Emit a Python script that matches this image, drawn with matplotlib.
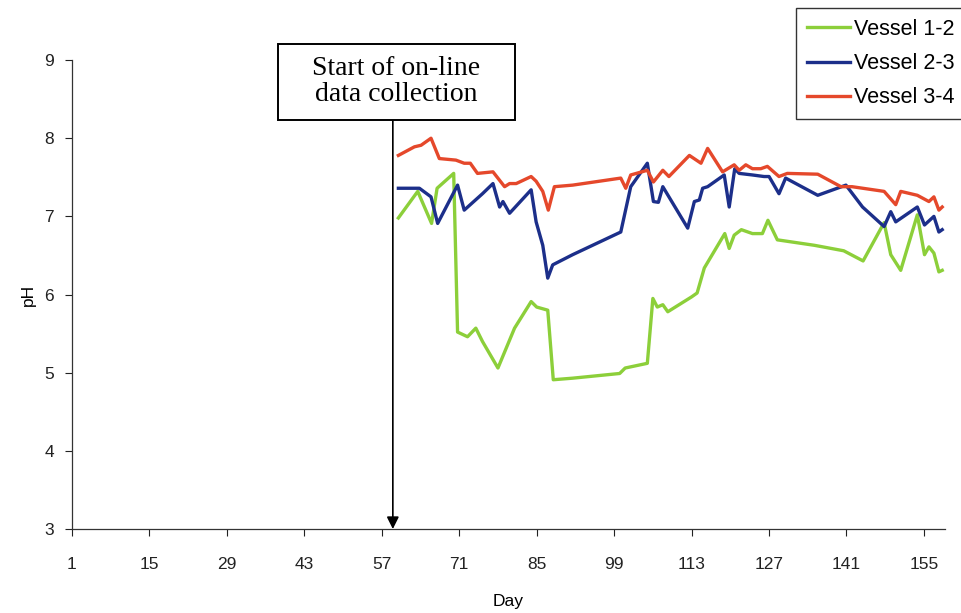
import matplotlib.pyplot as plt
from matplotlib.patches import Rectangle

# pH readings per vessel, day of run
days_12 = [60, 63.5, 66, 67, 70, 70.7, 72.5, 74, 75.2, 78, 81, 84, 85, 87, 88,
           91.5, 100, 101, 105, 106, 106.8, 107.8, 108.7, 113, 114, 115.3, 119,
           119.8, 120.7, 122, 124, 125.8, 126.8, 128.5, 135.2, 140.5, 144, 147.8,
           149, 150.8, 153.8, 155.1, 155.9, 156.8, 157.7, 158.3]
ph_12 = [6.98, 7.32, 6.91, 7.36, 7.55, 5.52, 5.46, 5.57, 5.40, 5.06, 5.57, 5.91,
         5.84, 5.80, 4.91, 4.93, 4.99, 5.06, 5.12, 5.95, 5.84, 5.87, 5.78, 5.97,
         6.02, 6.34, 6.78, 6.59, 6.76, 6.83, 6.78, 6.78, 6.95, 6.70, 6.63, 6.56,
         6.43, 6.92, 6.51, 6.31, 7.02, 6.51, 6.61, 6.53, 6.29, 6.31]

days_23 = [60, 63.8, 65.9, 67.1, 70.7, 71.9, 75.2, 77.1, 78.3, 78.9, 80.1, 84,
           84.9, 86.1, 87, 87.9, 91.5, 100.2, 102, 105, 106.1, 107, 107.8, 112.3,
           113.5, 114.4, 115, 115.9, 118.9, 119.8, 120.8, 121.6, 124, 126.1, 127,
           128.8, 130, 135.8, 140.9, 143.9, 147.8, 149, 149.9, 153.8, 155.1, 156.8,
           157.7, 158.3]
ph_23 = [7.36, 7.36, 7.25, 6.91, 7.40, 7.08, 7.29, 7.42, 7.12, 7.19, 7.04, 7.34,
         6.93, 6.63, 6.21, 6.38, 6.51, 6.80, 7.38, 7.68, 7.19, 7.18, 7.38, 6.85,
         7.19, 7.21, 7.36, 7.38, 7.53, 7.12, 7.61, 7.55, 7.53, 7.51, 7.51, 7.29,
         7.49, 7.27, 7.40, 7.12, 6.87, 7.06, 6.93, 7.12, 6.89, 7.00, 6.80, 6.83]

days_34 = [60, 62.9, 64.1, 65.9, 67.4, 70.4, 71.9, 73, 74.3, 77.1, 79.2, 80.1,
           81.3, 84, 84.9, 86.1, 87.1, 88.2, 91.5, 100.2, 101.1, 102, 105, 106.1,
           107.8, 108.9, 112.6, 114.7, 115.9, 118.6, 120.7, 121.6, 122.8, 124,
           125.5, 126.7, 128.8, 130.3, 135.8, 140, 142, 147.8, 149.9, 150.8, 153.8,
           155.9, 156.8, 157.7, 158.3]
ph_34 = [7.78, 7.89, 7.91, 8.00, 7.74, 7.72, 7.68, 7.68, 7.55, 7.57, 7.38, 7.42,
         7.42, 7.51, 7.45, 7.32, 7.08, 7.38, 7.40, 7.49, 7.36, 7.53, 7.59, 7.44,
         7.59, 7.51, 7.78, 7.68, 7.87, 7.57, 7.66, 7.59, 7.66, 7.61, 7.61, 7.64,
         7.51, 7.55, 7.54, 7.38, 7.38, 7.32, 7.15, 7.32, 7.27, 7.19, 7.25, 7.08,
         7.12]

x_ticks = list(range(1, 156, 14))
y_ticks = [3, 4, 5, 6, 7, 8, 9]
start_day = 59

plt.rcParams['font.family'] = ['Liberation Sans', 'DejaVu Sans']

fig = plt.figure(figsize=(9.62, 6.13), dpi=100)
ax = fig.add_axes([0.0748, 0.137, 0.9075, 0.765])

ax.plot(days_12, ph_12, color='#8ccf3a', lw=2.4, label='Vessel 1-2')
ax.plot(days_23, ph_23, color='#1c2f8a', lw=2.4, label='Vessel 2-3')
ax.plot(days_34, ph_34, color='#e5482b', lw=2.4, label='Vessel 3-4')

ax.set_xlim(1, 158.8)
ax.set_ylim(3, 9)
ax.set_xticks(x_ticks)
ax.set_yticks(y_ticks)
ax.tick_params(labelsize=12.5, length=5, width=0.8, colors='#222222')
ax.tick_params(axis='x', pad=15)
ax.tick_params(axis='y', pad=8)
for side in ('top', 'right'):
    ax.spines[side].set_visible(False)
for side in ('left', 'bottom'):
    ax.spines[side].set_color('#333333')
    ax.spines[side].set_linewidth(0.9)

ax.set_xlabel('Day', fontsize=12.5, labelpad=16)
ax.set_ylabel('pH', fontsize=12.5, labelpad=6)

# callout box with an arrow down to the axis at the start day
ax.add_patch(Rectangle((38.2, 8.23), 42.9, 0.975, fc='white', ec='black', lw=1.4,
                       clip_on=False, zorder=5))
ax.text(59.6, 8.72, 'Start of on-line\ndata collection', ha='center', va='center',
        fontsize=20, family=['Liberation Serif', 'DejaVu Serif'], linespacing=1.05,
        zorder=6, clip_on=False)
ax.annotate('', xy=(start_day, 3), xytext=(start_day, 8.23), annotation_clip=False,
            arrowprops=dict(arrowstyle='-|>', color='black', lw=1.2, mutation_scale=18,
                            shrinkA=0, shrinkB=0))

fig.legend(loc='upper left', bbox_to_anchor=(0.8275, 0.987), fontsize=15.5,
           frameon=True, fancybox=False, edgecolor='#333333', framealpha=1,
           handlelength=2.0, handletextpad=0.2, labelspacing=0.62, borderpad=0.5,
           borderaxespad=0)

fig.savefig('out.png', dpi=100)
